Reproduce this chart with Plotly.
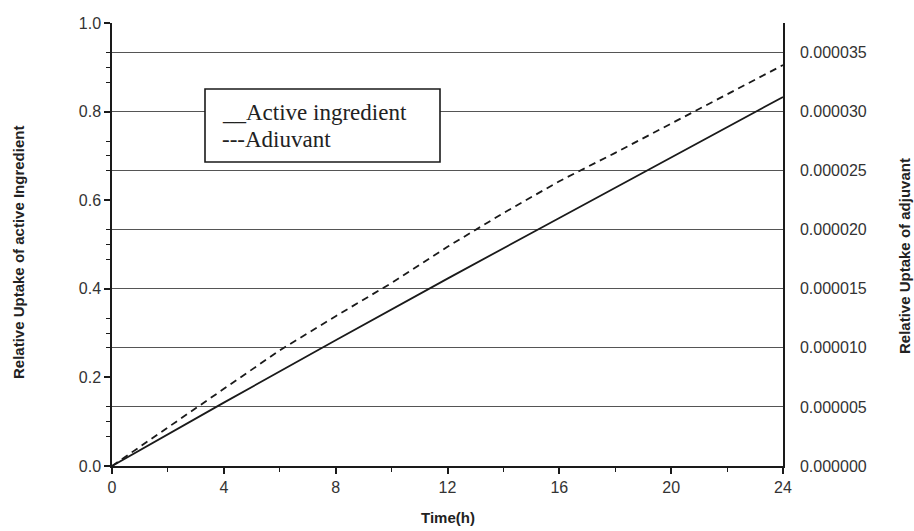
import plotly.graph_objects as go

# Data
time_h = [0, 4, 8, 12, 16, 20, 24]
active_uptake = [0, 0.143, 0.284, 0.423, 0.560, 0.697, 0.833]

time_adj = [0, 2, 4, 6, 8, 10, 12, 14, 16, 18, 20, 22, 24]
adjuvant_uptake = [0, 3.30e-6, 6.53e-6, 9.79e-6, 1.268e-5, 1.549e-5, 1.856e-5,
                   2.141e-5, 2.411e-5, 2.651e-5, 2.899e-5, 3.15e-5, 3.394e-5]

x_ticks = [0, 4, 8, 12, 16, 20, 24]
left_ticks = [0.0, 0.2, 0.4, 0.6, 0.8, 1.0]
left_minor = [0.0667, 0.1, 0.3, 0.3333, 0.4667, 0.5, 0.7, 0.7333, 0.8667, 0.9]
right_ticks = [0, 5e-6, 1e-5, 1.5e-5, 2e-5, 2.5e-5, 3e-5, 3.5e-5]
right_max = 3.75e-5

x_title = "Time(h)"
left_title = "Relative Uptake of active Ingredient"
right_title = "Relative Uptake of adjuvant"
legend_lines = ["__Active ingredient", "---Adiuvant"]

ink = "#1a1a1a"
sans = "Liberation Sans, Arial, sans-serif"

fig = go.Figure()
fig.add_trace(go.Scatter(x=time_h, y=active_uptake, mode="lines",
                         line=dict(color=ink, width=1.8), yaxis="y",
                         showlegend=False, hoverinfo="skip"))
fig.add_trace(go.Scatter(x=time_adj, y=adjuvant_uptake, mode="lines",
                         line=dict(color=ink, width=1.8, dash="7px,5px"),
                         yaxis="y2", showlegend=False, hoverinfo="skip"))

# left minor ticks also where right gridlines meet the left axis
grid_on_left = [v / right_max for v in right_ticks[1:]]

fig.update_layout(
    width=914, height=531,
    margin=dict(l=112, r=131, t=23, b=65),
    paper_bgcolor="white", plot_bgcolor="white",
    font=dict(family=sans, color="#222"),
    xaxis=dict(
        range=[0, 24], tickvals=x_ticks, showgrid=False, zeroline=False,
        showline=True, linecolor=ink, linewidth=1.5,
        ticks="outside", ticklen=6, tickcolor=ink, tickwidth=1.5,
        minor=dict(dtick=2, tick0=0, ticks="outside", ticklen=4, tickcolor=ink, tickwidth=1.2),
        tickfont=dict(size=16, color="#333"),
    ),
    yaxis=dict(
        range=[0, 1], tickvals=left_ticks, ticktext=[f"{v:.1f}" for v in left_ticks],
        showgrid=False, zeroline=False,
        showline=True, linecolor=ink, linewidth=1.5,
        ticks="outside", ticklen=6, tickcolor=ink, tickwidth=1.5,
        minor=dict(tickmode="array", tickvals=left_minor + grid_on_left,
                   ticks="outside", ticklen=4, tickcolor=ink, tickwidth=1.2),
        tickfont=dict(size=16, color="#333"),
    ),
    yaxis2=dict(
        range=[0, right_max], overlaying="y", side="right",
        tickvals=right_ticks, tickformat=".6f",
        showgrid=True, gridcolor="#555", gridwidth=1.2, zeroline=False,
        showline=True, linecolor=ink, linewidth=1.5,
        ticks="", ticklabelstandoff=12,
        tickfont=dict(size=16, color="#333"),
    ),
)

# axis titles
title_font = dict(family=sans, size=15, color="#222")
fig.add_annotation(text=f"<b>{x_title}</b>", xref="paper", yref="paper",
                   x=0.5, y=(466 - 517) / 443, xanchor="center", yanchor="middle",
                   showarrow=False, font=title_font)
fig.add_annotation(text=f"<b>{left_title}</b>", xref="paper", yref="paper",
                   x=(18 - 112) / 671, y=(466 - 253) / 443, textangle=-90,
                   xanchor="center", yanchor="middle", showarrow=False, font=title_font)
fig.add_annotation(text=f"<b>{right_title}</b>", xref="paper", yref="paper",
                   x=(905 - 112) / 671, y=(466 - 256) / 443, textangle=-90,
                   xanchor="center", yanchor="middle", showarrow=False, font=title_font)

# legend box drawn as a shape plus text annotations
fig.add_shape(type="rect", xref="paper", yref="paper",
              x0=(205 - 112) / 671, x1=(440 - 112) / 671,
              y0=(466 - 162) / 443, y1=(466 - 89) / 443,
              line=dict(color=ink, width=1.6), fillcolor="white", layer="above")
for i, txt in enumerate(legend_lines):
    fig.add_annotation(text=txt, xref="paper", yref="paper",
                       x=(220 - 112) / 671, y=(466 - (112 + 27 * i)) / 443,
                       xanchor="left", yanchor="middle", showarrow=False,
                       font=dict(family="Liberation Serif, Times New Roman, serif",
                                 size=23, color="#222"))

fig.write_html("out.html")
